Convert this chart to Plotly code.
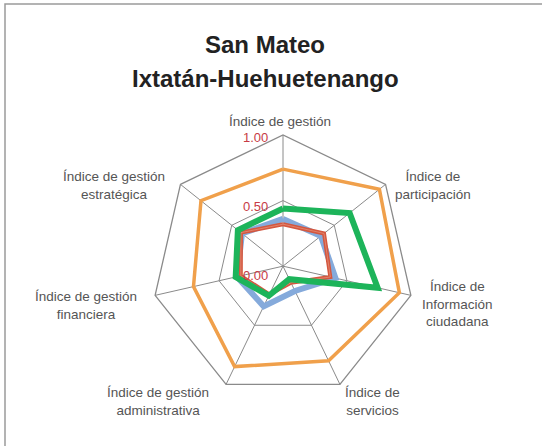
import plotly.graph_objects as go

categories = ["Índice de gestión", "Índice de participación", "Índice de Información ciudadana",
              "Índice de servicios", "Índice de gestión administrativa",
              "Índice de gestión financiera", "Índice de gestión estratégica"]
label_text = ["Índice de gestión", "Índice de<br>participación", "Índice de<br>Información<br>ciudadana",
              "Índice de<br>servicios", "Índice de gestión<br>administrativa",
              "Índice de gestión<br>financiera", "Índice de gestión<br>estratégica"]
orange_vals = [0.74, 0.94, 0.91, 0.80, 0.85, 0.70, 0.80]
blue_vals = [0.36, 0.37, 0.41, 0.21, 0.34, 0.36, 0.40]
red_vals = [0.32, 0.40, 0.37, 0.14, 0.24, 0.33, 0.41]
green_vals = [0.44, 0.65, 0.74, 0.11, 0.25, 0.37, 0.44]
tick_vals = [0.0, 0.5, 1.0]
tick_text = ["0.00", "0.50", "1.00"]

W, H = 542, 446
cx, cy, R = 283, 273, 138
half_w = 0.97493 * R   # heptagon half-width
down = 0.90097 * R     # heptagon extent below centre

def closed(v):
    return list(v) + [v[0]]

theta = closed(categories)

fig = go.Figure()
fig.add_trace(go.Scatterpolar(r=closed(orange_vals), theta=theta, mode="lines",
                              line=dict(color="#f0a04b", width=3.5)))
fig.add_trace(go.Scatterpolar(r=closed(blue_vals), theta=theta, mode="lines",
                              line=dict(color="#85aadb", width=6)))
fig.add_trace(go.Scatterpolar(r=closed(red_vals), theta=theta, mode="lines",
                              line=dict(color="#d4573f", width=4)))
fig.add_trace(go.Scatterpolar(r=closed(red_vals), theta=theta, mode="lines",
                              line=dict(color="#e0836c", width=1)))
fig.add_trace(go.Scatterpolar(r=closed(green_vals), theta=theta, mode="lines",
                              line=dict(color="#1db45a", width=6)))

gridc = "#8a8a8a"
fig.update_layout(
    width=W, height=H,
    margin=dict(l=0, r=0, t=0, b=0),
    paper_bgcolor="white",
    plot_bgcolor="white",
    showlegend=False,
    polar=dict(
        domain=dict(x=[(cx - half_w) / W, (cx + half_w) / W],
                    y=[(H - cy - down) / H, (H - cy + R) / H]),
        bgcolor="white",
        gridshape="linear",
        radialaxis=dict(range=[0, 1], tickvals=tick_vals, ticktext=tick_text,
                        angle=90, showticklabels=False,
                        showline=False, ticks="", gridcolor=gridc, gridwidth=1.3),
        angularaxis=dict(direction="clockwise", rotation=90, showticklabels=False, ticks="",
                         linecolor=gridc, linewidth=1.3, gridcolor=gridc, gridwidth=1.3),
    ),
)

# radial tick labels (placed at their values along the top axis)
for v, t in zip(tick_vals, tick_text):
    fig.add_annotation(x=(cx - 13) / W, y=1 - (cy - v * R + 2) / H, xref="paper", yref="paper",
                       text=t, showarrow=False, xanchor="right", yanchor="middle",
                       font=dict(family="Liberation Sans, Arial", size=13, color="#c73b45"))

# category labels
label_pos = [(280, 121), (433, 185), (457, 304), (372, 401), (158, 401), (86, 305), (114, 185)]
for t, (x, y) in zip(label_text, label_pos):
    fig.add_annotation(x=x / W, y=1 - y / H, xref="paper", yref="paper", text=t,
                       showarrow=False, xanchor="center", yanchor="middle",
                       font=dict(family="Liberation Sans, Arial", size=13.5, color="#555555"))

# title
for t, y in [("San Mateo", 45), ("Ixtatán-Huehuetenango", 79)]:
    fig.add_annotation(x=265 / W, y=1 - y / H, xref="paper", yref="paper", text="<b>" + t + "</b>",
                       showarrow=False, xanchor="center", yanchor="middle",
                       font=dict(family="Liberation Sans, Arial", size=24, color="#222222"))

# frame
fig.add_shape(type="rect", xref="paper", yref="paper", x0=5 / W, x1=1.05, y0=-0.05, y1=1 - 4 / H,
              line=dict(color="#9a9a9a", width=1.5), fillcolor="rgba(0,0,0,0)", layer="below")

fig.write_html("out.html", config={"displayModeBar": False},
               post_script="document.body.style.margin='0';")
